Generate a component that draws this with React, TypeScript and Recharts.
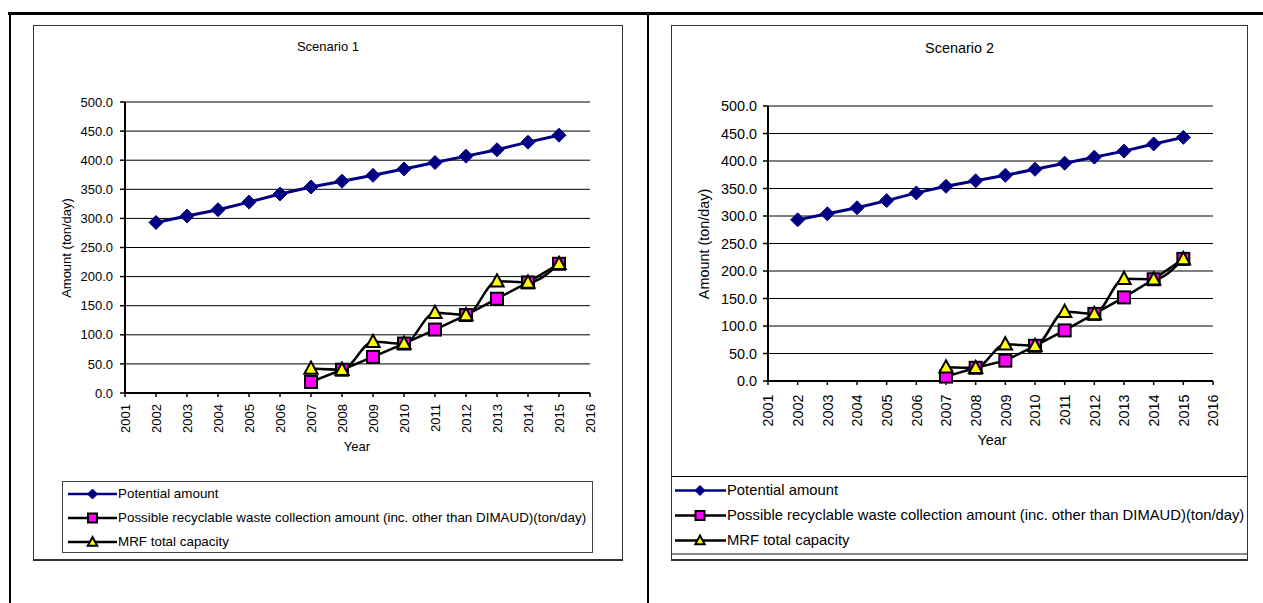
import type { CSSProperties, FC } from "react";
import { LineChart, Line, XAxis, YAxis, CartesianGrid, Legend, Label } from "recharts";

const FONT = '"Liberation Sans", Arial, Helvetica, sans-serif';

const years = [2002, 2003, 2004, 2005, 2006, 2007, 2008, 2009, 2010, 2011, 2012, 2013, 2014, 2015];
const xTicks = [2001, 2002, 2003, 2004, 2005, 2006, 2007, 2008, 2009, 2010, 2011, 2012, 2013, 2014, 2015, 2016];
const yTicks = [0, 50, 100, 150, 200, 250, 300, 350, 400, 450, 500];

const potential1 = [293, 304, 315, 328, 342, 354, 364, 374, 385, 396, 407, 418, 431, 443];
const recyclable1 = [null, null, null, null, null, 19, 40, 62, 85, 109, 134, 162, 190, 222];
const capacity1 = [null, null, null, null, null, 42, 40, 88, 85, 138, 134, 192, 190, 222];

const potential2 = [293, 304, 315, 328, 342, 354, 364, 374, 385, 396, 407, 418, 431, 443];
const recyclable2 = [null, null, null, null, null, 8, 24, 37, 64, 92, 122, 152, 185, 222];
const capacity2 = [null, null, null, null, null, 25, 24, 67, 64, 126, 122, 186, 185, 222];

const seriesNames = [
  "Potential amount",
  "Possible recyclable waste collection amount (inc. other than DIMAUD)(ton/day)",
  "MRF total capacity",
];

const NAVY = "#000080";

// marker shapes
const diamond = (cx: number, cy: number, r: number) => (
  <polygon
    points={`${cx},${cy - r} ${cx + r},${cy} ${cx},${cy + r} ${cx - r},${cy}`}
    fill={NAVY}
    stroke={NAVY}
    strokeWidth={1}
  />
);
const square = (cx: number, cy: number, r: number) => (
  <rect x={cx - r} y={cy - r} width={r * 2} height={r * 2} fill="#FF00FF" stroke="#000" strokeWidth={2} />
);
const triangle = (cx: number, cy: number, r: number) => (
  <polygon
    points={`${cx},${cy - r} ${cx + r * 0.95},${cy + r * 0.75} ${cx - r * 0.95},${cy + r * 0.75}`}
    fill="#FFFF00"
    stroke="#000"
    strokeWidth={2}
  />
);

const shapes: Record<string, (cx: number, cy: number, r: number) => JSX.Element> = {
  potential: diamond,
  recyclable: square,
  capacity: triangle,
};

const makeDot = (key: string, r: number) => (p: any) => {
  if (p.cx == null || p.cy == null || p.value == null) return <g key={`${key}-${p.index}`} />;
  return <g key={`${key}-${p.index}`}>{shapes[key](p.cx, p.cy, r)}</g>;
};

const YearTick = ({ x, y, payload, shift, fontSize }: any) => (
  <text
    x={0}
    y={0}
    transform={`translate(${x + fontSize * 0.36},${y + shift}) rotate(-90)`}
    textAnchor="end"
    fontSize={fontSize}
    fill="#000"
    fontFamily={FONT}
  >
    {payload.value}
  </text>
);

type Row = { pad: number; h: number; x0: number; x1: number; mx: number; tx: number; fs: number };

const makeLegend = (row: Row) => (props: any) => {
  const payload = [...(props.payload || [])].sort(
    (a: any, b: any) => seriesNames.indexOf(a.value) - seriesNames.indexOf(b.value)
  );
  return (
    <div style={{ position: "relative", paddingTop: row.pad }}>
      {payload.map((entry: any) => {
        const key = entry.dataKey as string;
        const color = key === "potential" ? NAVY : "#000";
        const r = key === "recyclable" ? 4.5 : 5;
        return (
          <div key={key} style={{ position: "relative", height: row.h, whiteSpace: "nowrap" }}>
            <svg width={row.x1 + 2} height={row.h} style={{ position: "absolute", left: 0, top: 0 }}>
              <line x1={row.x0} x2={row.x1} y1={row.h / 2} y2={row.h / 2} stroke={color} strokeWidth={2.5} />
              {shapes[key](row.mx, row.h / 2, r)}
            </svg>
            <span
              style={{
                position: "absolute",
                left: row.tx,
                top: 0,
                lineHeight: `${row.h}px`,
                fontSize: row.fs,
                fontFamily: FONT,
                color: "#000",
              }}
            >
              {entry.value}
            </span>
          </div>
        );
      })}
    </div>
  );
};

type PanelProps = {
  title: string;
  left: number;
  width: number;
  potential: (number | null)[];
  recyclable: (number | null)[];
  capacity: (number | null)[];
  margin: { top: number; right: number; bottom: number; left: number };
  yWidth: number;
  yTickMargin: number;
  tickShift: number;
  fontSize: number;
  yLabel: [number, number];
  xLabel: [number, number];
  titleY: number;
  legendStyle: CSSProperties;
  row: Row;
};

const HEIGHT = 536;

const Panel: FC<PanelProps> = (p) => {
  const data = years.map((year, i) => ({
    year,
    potential: p.potential[i],
    recyclable: p.recyclable[i],
    capacity: p.capacity[i],
  }));
  const fs = p.fontSize;
  return (
    <div
      style={{
        position: "absolute",
        left: p.left,
        top: 25,
        width: p.width,
        height: HEIGHT,
        overflow: "hidden",
        background: "#fff",
      }}
    >
      <div
        style={{
          position: "absolute",
          left: 0,
          top: p.titleY - 9,
          width: p.width,
          textAlign: "center",
          fontSize: fs,
          fontFamily: FONT,
          lineHeight: "18px",
        }}
      >
        {p.title}
      </div>
      <LineChart width={p.width} height={HEIGHT} data={data} margin={p.margin} style={{ position: "absolute", left: 0, top: 0 }}>
        <CartesianGrid vertical={false} stroke="#000" strokeWidth={1} />
        <XAxis
          dataKey="year"
          type="number"
          domain={[2001, 2016]}
          ticks={xTicks}
          interval={0}
          height={60}
          axisLine={{ stroke: "#000", strokeWidth: 2 }}
          tickLine={{ stroke: "#000", strokeWidth: 1.5 }}
          tickSize={4}
          tick={<YearTick shift={p.tickShift} fontSize={fs} />}
        >
          <Label
            content={() => (
              <text
                x={p.xLabel[0]}
                y={p.xLabel[1]}
                textAnchor="middle"
                dominantBaseline="central"
                fontSize={fs}
                fontFamily={FONT}
                fill="#000"
              >
                Year
              </text>
            )}
          />
        </XAxis>
        <YAxis
          domain={[0, 500]}
          ticks={yTicks}
          interval={0}
          width={p.yWidth}
          axisLine={{ stroke: "#000", strokeWidth: 2 }}
          tickLine={{ stroke: "#000", strokeWidth: 1.5 }}
          tickSize={5}
          tickMargin={p.yTickMargin}
          tickFormatter={(v: number) => v.toFixed(1)}
          tick={{ fontSize: fs, fill: "#000", fontFamily: FONT }}
        >
          <Label
            content={() => (
              <text
                x={p.yLabel[0]}
                y={p.yLabel[1]}
                transform={`rotate(-90, ${p.yLabel[0]}, ${p.yLabel[1]})`}
                textAnchor="middle"
                dominantBaseline="central"
                fontSize={fs}
                fontFamily={FONT}
                fill="#000"
              >
                Amount (ton/day)
              </text>
            )}
          />
        </YAxis>
        <Legend
          layout="vertical"
          align="center"
          verticalAlign="middle"
          itemSorter={null as any}
          wrapperStyle={p.legendStyle}
          content={makeLegend(p.row)}
        />
        <Line
          dataKey="potential"
          name={seriesNames[0]}
          stroke={NAVY}
          strokeWidth={3}
          dot={makeDot("potential", 7)}
          activeDot={false}
          isAnimationActive={false}
        />
        <Line
          dataKey="recyclable"
          name={seriesNames[1]}
          stroke="#000"
          strokeWidth={2.5}
          dot={makeDot("recyclable", 6)}
          activeDot={false}
          isAnimationActive={false}
        />
        <Line
          type="monotone"
          dataKey="capacity"
          name={seriesNames[2]}
          stroke="#000"
          strokeWidth={2.5}
          dot={makeDot("capacity", 7)}
          activeDot={false}
          isAnimationActive={false}
        />
      </LineChart>
      <div
        style={{
          position: "absolute",
          left: 0,
          top: 0,
          width: p.width,
          height: HEIGHT,
          boxSizing: "border-box",
          border: "1px solid #333",
          borderBottom: "2px solid #333",
          pointerEvents: "none",
        }}
      />
    </div>
  );
};

const App: FC = () => {
  return (
    <div style={{ position: "absolute", left: 0, top: 0, width: 1263, height: 603, overflow: "hidden", background: "#fff" }}>
      <div style={{ position: "absolute", left: 8, top: 12, width: 1255, height: 3, background: "#000" }} />
      <div style={{ position: "absolute", left: 9, top: 12, width: 2, height: 591, background: "#000" }} />
      <div style={{ position: "absolute", left: 647, top: 12, width: 2, height: 591, background: "#000" }} />
      <Panel
        title="Scenario 1"
        left={33}
        width={590}
        potential={potential1}
        recyclable={recyclable1}
        capacity={capacity1}
        margin={{ top: 77, right: 33, bottom: 108, left: 0 }}
        yWidth={92}
        yTickMargin={7}
        tickShift={5}
        fontSize={13}
        yLabel={[33, 223]}
        xLabel={[324, 421]}
        titleY={22}
        legendStyle={{
          position: "absolute",
          left: 29,
          top: 456,
          width: 531,
          height: 72,
          boxSizing: "border-box",
          border: "1px solid #444",
          background: "#fff",
        }}
        row={{ pad: 0, h: 24, x0: 5, x1: 54, mx: 29.5, tx: 55, fs: 13.4 }}
      />
      <Panel
        title="Scenario 2"
        left={671}
        width={577}
        potential={potential2}
        recyclable={recyclable2}
        capacity={capacity2}
        margin={{ top: 81, right: 35, bottom: 120, left: 0 }}
        yWidth={97}
        yTickMargin={6}
        tickShift={7.5}
        fontSize={14.4}
        yLabel={[33, 219]}
        xLabel={[321, 415]}
        titleY={23}
        legendStyle={{
          position: "absolute",
          left: 0,
          top: 451,
          width: 640,
          height: 79,
          boxSizing: "border-box",
          borderTop: "1px solid #000",
          borderBottom: "2px solid #888",
          background: "#fff",
        }}
        row={{ pad: 1, h: 25, x0: 4, x1: 55, mx: 29, tx: 56, fs: 14.8 }}
      />
    </div>
  );
};

export default App;
